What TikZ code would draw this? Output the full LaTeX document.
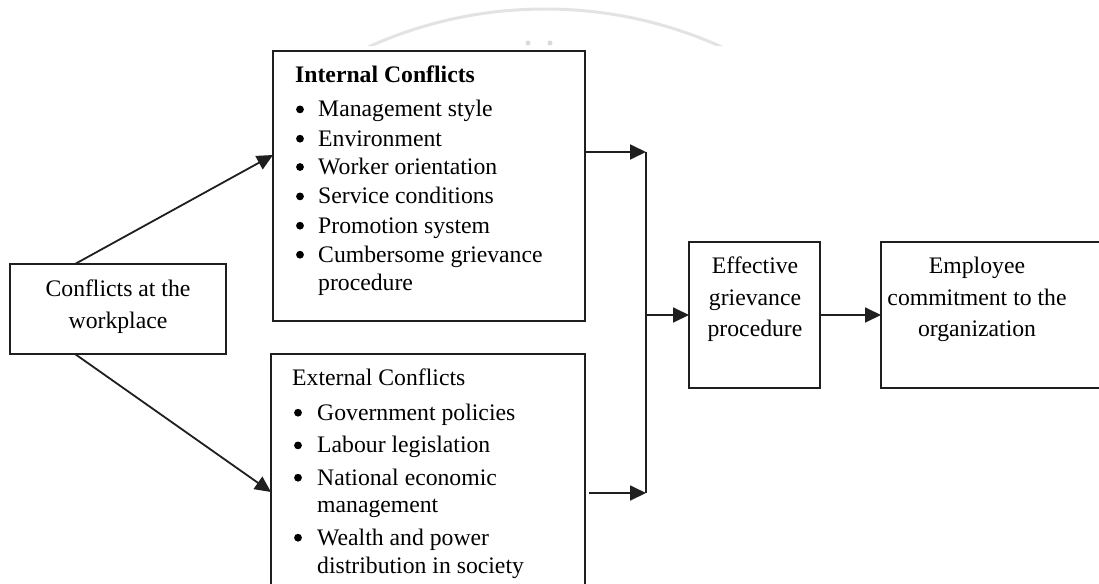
\documentclass[tikz,border=0pt]{standalone}
\usepackage{fontspec}
\setmainfont{Liberation Serif}
\usetikzlibrary{arrows.meta,calc}
\begin{document}
\begin{tikzpicture}[x=1pt,y=-1pt,
  box/.style={rectangle, draw=black!88, line width=1.8pt, inner sep=0pt, outer sep=0pt},
  txt/.style={inner sep=0pt, font=\fontsize{23.7}{28}\selectfont},
  boldtxt/.style={inner sep=0pt, font=\fontsize{23.7}{28}\selectfont\bfseries},
  dot/.style={fill=black},
  link/.style={draw=black!88, line width=1.8pt},
  arr/.style={link, -{Triangle[length=16pt,width=15pt]}}]
\useasboundingbox (0,0) rectangle (1099,583);
\fill[white] (0,0) rectangle (1099,583);

% faint arc of the logo at the top
\begin{scope}
  \clip (0,0) rectangle (1099,46);
  \draw[gray!22, line width=3pt] (545,438) circle[radius=429];
\end{scope}
\fill[gray!30] (528,43) circle[radius=2.5] (550,43) circle[radius=2.5];

% boxes
\node[box, minimum width=216pt, minimum height=90pt]  (conf) at (118,309) {};
\node[box, minimum width=312pt, minimum height=270pt] (int)  at (429,186) {};
\node[box, minimum width=314pt, minimum height=250pt] (ext)  at (428,479) {};
\node[box, minimum width=131pt, minimum height=146pt] (eff)  at (754.5,315) {};
\node[box, minimum width=230pt, minimum height=146pt] (emp)  at (996,315) {};

% source of conflicts
\node[txt, anchor=base] (confA) at (118,296.7) {Conflicts at the};
\node[txt, anchor=base] (confB) at (118,328) {workplace};

% internal conflicts
\node[boldtxt, anchor=base west] (intT) at (295,83) {Internal Conflicts};
\foreach \y/\t [count=\k] in {116.7/Management style, 146/Environment,
    174.3/Worker orientation, 203.7/Service conditions,
    233/Promotion system, 262/Cumbersome grievance} {
  \fill[dot] (300,\y-7.3) circle[radius=3.9];
  \node[txt, anchor=base west] (intI\k) at (318,\y) {\t};
}
\node[txt, anchor=base west] (intC) at (318,290) {procedure};

% external conflicts
\node[txt, anchor=base west] (extT) at (292,385) {External Conflicts};
\foreach \y/\t [count=\k] in {420/Government policies, 452.7/Labour legislation,
    485/National economic, 545/Wealth and power} {
  \fill[dot] (298,\y-7.3) circle[radius=3.9];
  \node[txt, anchor=base west] (extI\k) at (317,\y) {\t};
}
\node[txt, anchor=base west] (extC1) at (317,512.3) {management};
\node[txt, anchor=base west] (extC2) at (317,573.3) {distribution in society};

% outcome boxes
\foreach \y/\t [count=\k] in {273.3/Effective, 305/grievance, 336.7/procedure}
  \node[txt, anchor=base] (effL\k) at (755,\y) {\t};
\foreach \y/\t [count=\k] in {273.3/Employee, 305/commitment to the, 336.7/organization}
  \node[txt, anchor=base] (empL\k) at (977,\y) {\t};

% connectors
\coordinate (j1) at (646,152);
\coordinate (j2) at (646,493);
\draw[arr] ([xshift=65pt]conf.north west) -- ([yshift=-104pt]int.north west);
\draw[arr] ([xshift=65pt]conf.south west) -- ([yshift=-138pt]ext.north west);
\draw[arr] ([yshift=-101pt]int.north east) -- (j1);
\draw[arr] ([xshift=4pt,yshift=-139pt]ext.north east) -- (j2);
\draw[link] (j1) -- (j2);
\draw[arr] (j1 |- eff.west) -- (eff.west);
\draw[arr] (eff.east) -- (emp.west);
\end{tikzpicture}
\end{document}
